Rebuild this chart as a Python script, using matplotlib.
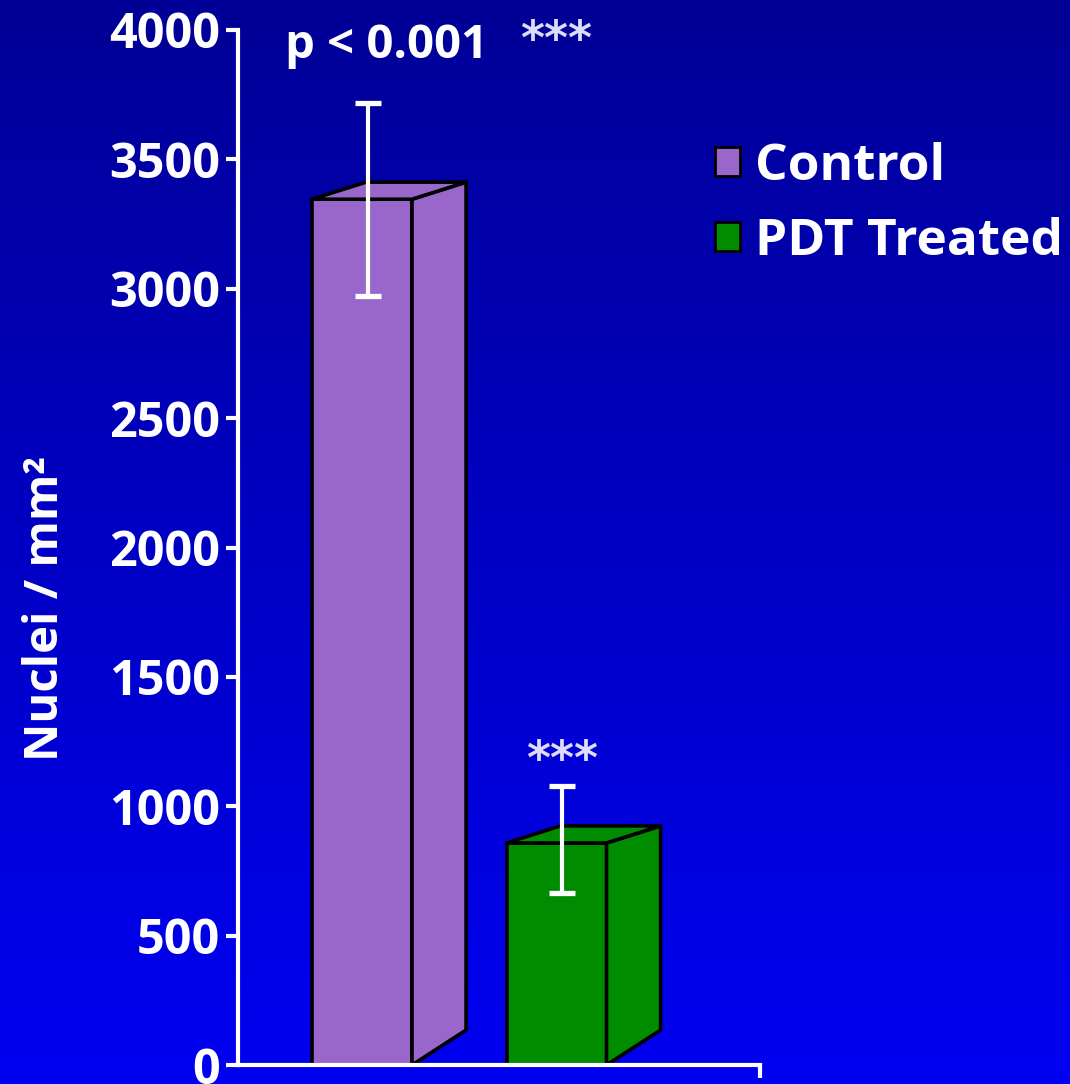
import numpy as np
import matplotlib
matplotlib.use("Agg")
import matplotlib.pyplot as plt
from matplotlib.patches import Polygon, Patch
from matplotlib.colors import LinearSegmentedColormap

plt.rcParams['font.family'] = ['Open Sans', 'DejaVu Sans']
plt.rcParams['font.weight'] = 'bold'

## Data
groups = ['Control', 'PDT Treated']
means = [3346, 858]
err_low = [2971, 665]      # lower end of error bar
err_high = [3717, 1078]    # upper end of error bar
bar_colors = ['#9966cc', '#008c00']
yticks = np.arange(0, 4001, 500)
sig_label = 'p < 0.001'
stars = '***'

W, H = 1070, 1084
fig = plt.figure(figsize=(W / 100, H / 100), dpi=100)

# background gradient (navy at top -> bright blue at bottom)
bg = fig.add_axes([0, 0, 1, 1], zorder=-10)
grad = np.linspace(0, 1, 256).reshape(-1, 1)
cmap = LinearSegmentedColormap.from_list('bg', ['#000096', '#0000f2'])
bg.imshow(grad, aspect='auto', cmap=cmap, extent=[0, 1, 0, 1], origin='upper')
bg.set_axis_off()

# main axes placed in pixel terms
x0, x1 = 238, 760
y_top, y_bot = 30, 1065
ax = fig.add_axes([x0 / W, 1 - y_bot / H, (x1 - x0) / W, (y_bot - y_top) / H])
ax.patch.set_alpha(0)

xpos = np.arange(len(groups))
width = 0.514
ax.set_xlim(-0.6375, 2.046)
ax.set_ylim(0, 4000)

# depth of the pseudo-3D bars
ddx = 0.278
ddy_top = 66
ddy_bot = 135
lw_edge = 2.6

for xc, m, col in zip(xpos, means, bar_colors):
    left, right = xc - width / 2, xc + width / 2
    ax.bar(xc, m, width=width, color=col, edgecolor='black', linewidth=lw_edge, zorder=2)
    side = Polygon([(right, 0), (right + ddx, ddy_bot), (right + ddx, m + ddy_top), (right, m)],
                   closed=True, facecolor=col, edgecolor='black', linewidth=lw_edge, zorder=2)
    top = Polygon([(left, m), (left + ddx, m + ddy_top), (right + ddx, m + ddy_top), (right, m)],
                  closed=True, facecolor=col, edgecolor='black', linewidth=lw_edge, zorder=2)
    ax.add_patch(side)
    ax.add_patch(top)

yerr = [np.array(means) - np.array(err_low), np.array(err_high) - np.array(means)]
ax.errorbar(xpos + 0.03, means, yerr=yerr, fmt='none', ecolor='white',
            elinewidth=3.0, capsize=9.4, capthick=3.8, zorder=4)

# axes styling
for s in ['top', 'right']:
    ax.spines[s].set_visible(False)
for s in ['left', 'bottom']:
    ax.spines[s].set_color('white')
    ax.spines[s].set_linewidth(3.0)
ax.set_yticks(yticks)
ax.set_yticklabels([str(v) for v in yticks])
ax.tick_params(axis='y', colors='white', length=9, width=3, pad=4, labelsize=35)
ax.set_xticks([2.046])
ax.set_xticklabels([''])
ax.tick_params(axis='x', colors='white', length=9, width=3)

# annotations
fig.text(285 / W, 1 - 58 / H, sig_label, color='white', fontsize=34, fontweight='bold',
         ha='left', va='baseline')
star_kw = dict(color='#dcdcff', fontsize=33, fontweight='bold', family='DejaVu Sans',
               ha='center', va='baseline')
fig.text(556 / W, 1 - 54 / H, stars, **star_kw)
ax.annotate(stars, (xpos[1] + 0.03, err_high[1]), xytext=(0, 9), textcoords='offset points',
            **star_kw)

fig.text(46 / W, 1 - 608 / H, 'Nuclei / mm²', color='white', fontsize=34, fontweight='bold',
         rotation=90, ha='center', va='center')

handles = [Patch(facecolor=c, edgecolor='black', linewidth=2) for c in bar_colors]
leg = fig.legend(handles, groups, loc='upper left', bbox_to_anchor=(715 / W, 1 - 142 / H),
                 frameon=False, fontsize=37, handlelength=0.48, handleheight=0.48,
                 handletextpad=0.3, labelspacing=0.48, borderpad=0, borderaxespad=0)
for t in leg.get_texts():
    t.set_color('white')
    t.set_fontweight('bold')

fig.savefig('out.png', dpi=100)
